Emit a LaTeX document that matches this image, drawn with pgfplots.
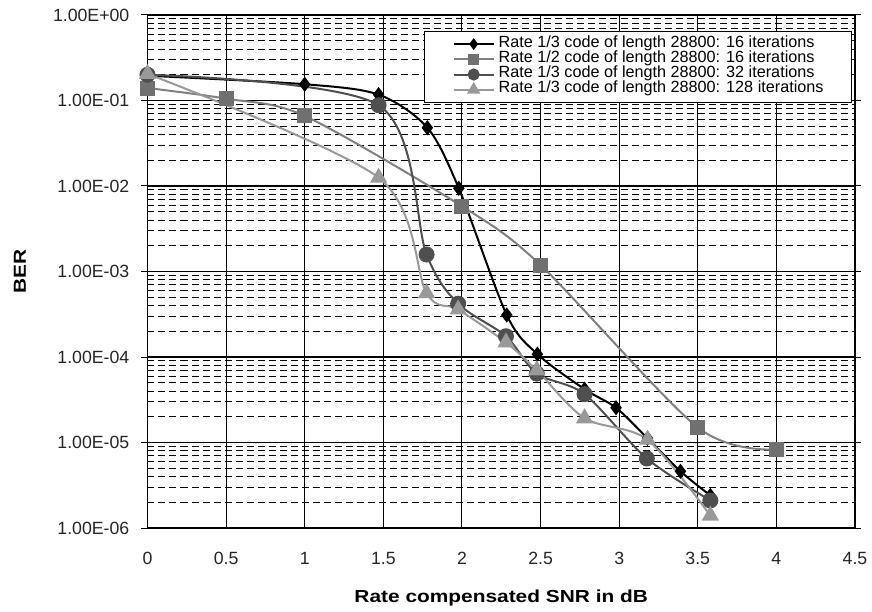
\documentclass[border=0pt]{standalone}
\usepackage{fontspec}
\setmainfont{Liberation Sans}
\usepackage{graphicx}
\usepackage{pgfplots}
\pgfplotsset{compat=1.18}
\usepackage{pgfplotstable}

\definecolor{sqline}{gray}{0.50}
\definecolor{sqmark}{gray}{0.44}
\definecolor{ciline}{gray}{0.31}
\definecolor{trline}{gray}{0.60}

\pgfplotstableread{
x y
0 0.195
1.0 0.155
1.47 0.117
1.78 0.048
1.98 0.0094
2.285 0.00031
2.48 0.000108
2.78 0.000042
2.98 0.0000255
3.18 0.0000112
3.39 0.0000046
3.58 0.0000024
}\dataA

\pgfplotstableread{
x y
0 0.14
0.5 0.105
1.0 0.066
2.0 0.0058
2.5 0.00119
3.5 0.0000150
4.0 0.0000083
}\dataB

\pgfplotstableread{
x y
0 0.2
1.47 0.088
1.775 0.00158
1.976 0.00042
2.28 0.000175
2.476 0.000064
2.78 0.0000368
3.176 0.0000065
3.58 0.0000021
}\dataC

\pgfplotstableread{
x y
0 0.205
1.47 0.0125
1.775 0.00056
1.976 0.00036
2.28 0.000148
2.476 0.00007
2.78 0.0000192
3.18 0.0000108
3.58 0.0000014
}\dataD

\begin{document}
\begin{tikzpicture}
\useasboundingbox (-147.5pt,-84pt) rectangle (724.5pt,528pt);
\begin{axis}[
  scale only axis, width=707.5pt, height=513pt,
  at={(0,0)}, anchor=south west,
  xmin=0, xmax=4.5, ymode=log, ymin=1e-6, ymax=1,
  xtick={0,0.5,1,1.5,2,2.5,3,3.5,4,4.5},
  xticklabels={0,0.5,1,1.5,2,2.5,3,3.5,4,4.5},
  ytick={1e-6,1e-5,1e-4,1e-3,1e-2,1e-1,1},
  yticklabels={1.00E-06,1.00E-05,1.00E-04,1.00E-03,1.00E-02,1.00E-01,1.00E+00},
  tick align=outside, major tick length=6pt, minor tick length=0pt,
  xtick style={draw=none},
  ytick style={black, line width=1pt},
  xmajorgrids, ymajorgrids, yminorgrids,
  major grid style={black, line width=1.1pt, solid},
  minor grid style={black, line width=0.9pt, dash pattern=on 7pt off 4pt},
  axis line style={black, line width=1.3pt},
  tick label style={font=\fontsize{17.7}{18}\selectfont, inner sep=0pt, text=black!85},
  xticklabel style={anchor=north, yshift=-18pt},
  yticklabel style={anchor=east, xshift=-12pt},
  xlabel={\scalebox{1.2}[1]{\bfseries Rate compensated SNR in dB}},
  ylabel={\scalebox{1.2}[1]{\bfseries BER}},
  xlabel style={at={(axis description cs:0.5,0)}, anchor=base, yshift=-74pt, inner sep=0pt, font=\fontsize{17.4}{18}\selectfont},
  ylabel style={at={([xshift=-127.5pt]axis description cs:0,0.5)}, rotate=0, anchor=center, inner sep=0pt, font=\fontsize{17.4}{18}\selectfont},
  legend style={at={(axis description cs:0.9958,0.9688)}, anchor=north east, draw=black, line width=1pt, fill=white,
    inner xsep=28pt, inner ysep=5pt, font=\fontsize{16.2}{16.2}\selectfont,
    row sep=0pt, column sep=4pt,
    nodes={inner sep=0pt, text height=10.8pt, text depth=4.4pt},
    cells={anchor=west}},
  legend image code/.code={\draw[mark repeat=2, mark phase=2, #1, every mark/.append style={scale=0.72}] plot coordinates {(0pt,0pt) (20pt,0pt) (40pt,0pt)};},
  clip=false,
]
\addplot[black, line width=2pt, smooth, tension=0.5, mark=diamond*, mark size=6pt, mark options={solid, fill=black, draw=black}] table {\dataA};
\addlegendentry{Rate 1/3 code of length 28800: 16 iterations}
\addplot[sqline, line width=2pt, smooth, tension=0.5, mark=square*, mark size=6.5pt, mark options={solid, fill=sqmark, draw=sqmark}] table {\dataB};
\addlegendentry{Rate 1/2 code of length 28800: 16 iterations}
\addplot[ciline, line width=2pt, smooth, tension=0.5, mark=*, mark size=7pt, mark options={solid, fill=ciline, draw=ciline}] table {\dataC};
\addlegendentry{Rate 1/3 code of length 28800: 32 iterations}
\addplot[trline, line width=2pt, smooth, tension=0.5, mark=triangle*, mark size=8pt, mark options={solid, fill=trline, draw=trline}] table {\dataD};
\addlegendentry{Rate 1/3 code of length 28800: 128 iterations}
\end{axis}
\end{tikzpicture}
\end{document}
